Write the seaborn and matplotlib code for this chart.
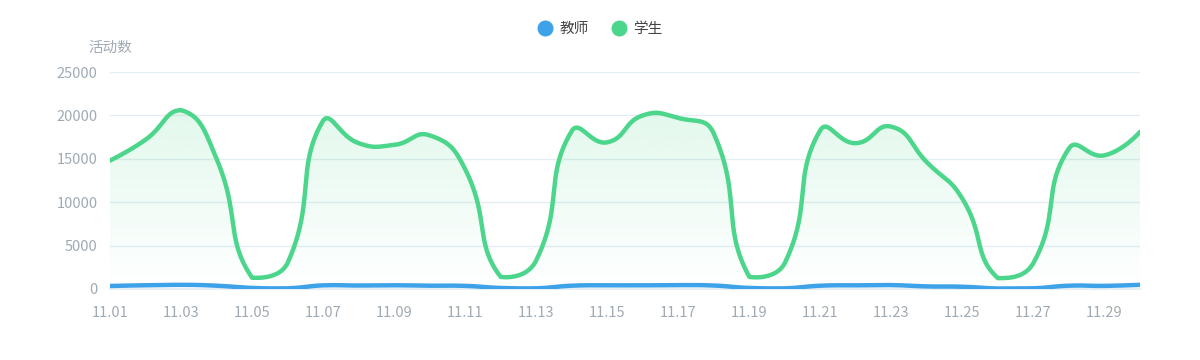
import numpy as np
import pandas as pd
import matplotlib
matplotlib.use('Agg')
import matplotlib.pyplot as plt
from matplotlib.patches import Polygon
from matplotlib.lines import Line2D
import seaborn as sns

# daily activity counts, 11.01 - 11.30
days = ['11.%02d' % d for d in range(1, 31)]
teacher = [350, 430, 480, 380, 120, 80, 420, 400, 430, 380, 360, 120, 80, 380, 420,
           420, 450, 400, 120, 80, 380, 420, 450, 300, 260, 60, 80, 380, 360, 480]
student = [14800, 17200, 20600, 15000, 1300, 3000, 19400, 16800, 16600, 17700,
           13800, 1400, 3300, 18200, 16900, 20000, 19700, 17900, 1400, 3000,
           18300, 16800, 18700, 14600, 10400, 1250, 3000, 16200, 15400, 18100]
series_names = ['教师', '学生']
colors = {'教师': '#3ea2e8', '学生': '#4cd68c'}

sns.set_theme(style='white')
plt.rcParams['font.family'] = ['Noto Sans CJK SC', 'DejaVu Sans']

fig = plt.figure(figsize=(12, 3.6), dpi=100)
ax = fig.add_axes([110 / 1200, 1 - 289 / 360, 1030 / 1200, 217 / 360])
ax.set_xlim(0, len(days) - 1)
ax.set_ylim(0, 25000)
fig.canvas.draw()


def smooth_curve(xs, ys, smooth=0.5, n=24):
    # bezier smoothing like echarts line series, done in pixel space
    pts = ax.transData.transform(np.column_stack([xs, ys]))
    lo = pts.min(axis=0)
    hi = pts.max(axis=0)
    out = [pts[0]]
    cp0 = pts[0].copy()
    for i in range(1, len(pts)):
        p = pts[i]
        prev = pts[i - 1]
        r = 0.5
        v = np.zeros(2)
        if i == len(pts) - 1:
            cp1 = p.copy()
        else:
            nxt = pts[i + 1]
            v = nxt - prev
            l0 = np.hypot(*(p - prev))
            l1 = np.hypot(*(nxt - p))
            r = l1 / (l0 + l1)
            cp1 = p - v * smooth * (1 - r)
        cp0 = np.clip(cp0, lo, hi)
        cp1 = np.clip(cp1, lo, hi)
        t = np.linspace(0, 1, n + 1)[1:, None]
        seg = ((1 - t) ** 3 * prev + 3 * (1 - t) ** 2 * t * cp0
               + 3 * (1 - t) * t ** 2 * cp1 + t ** 3 * p)
        out.extend(seg)
        cp0 = p + v * smooth * r
    return ax.transData.inverted().transform(np.array(out))


xpos = np.arange(len(days))
frames = []
for name, vals in zip(series_names, [teacher, student]):
    c = smooth_curve(xpos, np.array(vals, dtype=float))
    frames.append(pd.DataFrame({'x': c[:, 0], 'y': c[:, 1], 'series': name}))
df = pd.concat(frames, ignore_index=True)

# gradient area under student line
sc = df[df['series'] == '学生'][['x', 'y']].values
top = sc[:, 1].max()
grad = np.zeros((256, 1, 4))
grad[:, 0, :3] = matplotlib.colors.to_rgb(colors['学生'])
grad[:, 0, 3] = np.linspace(0.16, 0.0, 256)
img = ax.imshow(grad, extent=[0, len(days) - 1, 0, top], aspect='auto',
                origin='upper', zorder=1, interpolation='bilinear')
poly = Polygon(np.vstack([[[0, 0]], sc, [[len(days) - 1, 0]]]), closed=True,
               transform=ax.transData, facecolor='none', edgecolor='none')
ax.add_patch(poly)
img.set_clip_path(poly)
ax.set_xlim(0, len(days) - 1)
ax.set_ylim(0, 25000)

for name in ['学生', '教师']:
    sub = df[df['series'] == name]
    sns.lineplot(x=sub['x'].values, y=sub['y'].values, color=colors[name],
                 lw=3.2, ax=ax, sort=False, estimator=None, zorder=3,
                 solid_capstyle='round', solid_joinstyle='round')

grid_c = '#e3edf2'
tick_c = '#a0aab4'
ax.set_yticks([0, 5000, 10000, 15000, 20000, 25000])
ax.set_xticks(xpos[::2])
ax.set_xticklabels(days[::2])
ax.grid(axis='y', color=grid_c, lw=1)
ax.set_axisbelow(True)
for s in ['top', 'right', 'left']:
    ax.spines[s].set_visible(False)
ax.spines['bottom'].set_color(grid_c)
ax.tick_params(axis='both', length=0, labelsize=10.5, colors=tick_c)
ax.tick_params(axis='y', pad=9)
ax.tick_params(axis='x', pad=12)
ax.set_xlabel('')
ax.set_ylabel('')

fig.text(110 / 1200, 1 - 48 / 360, '活动数', ha='center', va='center',
         fontsize=10.5, color=tick_c)

handles = [Line2D([], [], marker='o', ls='none', markersize=10.5,
                  markerfacecolor=colors[n], markeredgecolor=colors[n])
           for n in series_names]
fig.legend(handles, series_names, loc='center', bbox_to_anchor=(0.5, 1 - 29 / 360),
           ncol=2, frameon=False, fontsize=10.5, handletextpad=0.5,
           columnspacing=1.6, labelcolor='#444444', handlelength=1.0)

fig.savefig('out.png', dpi=100)
